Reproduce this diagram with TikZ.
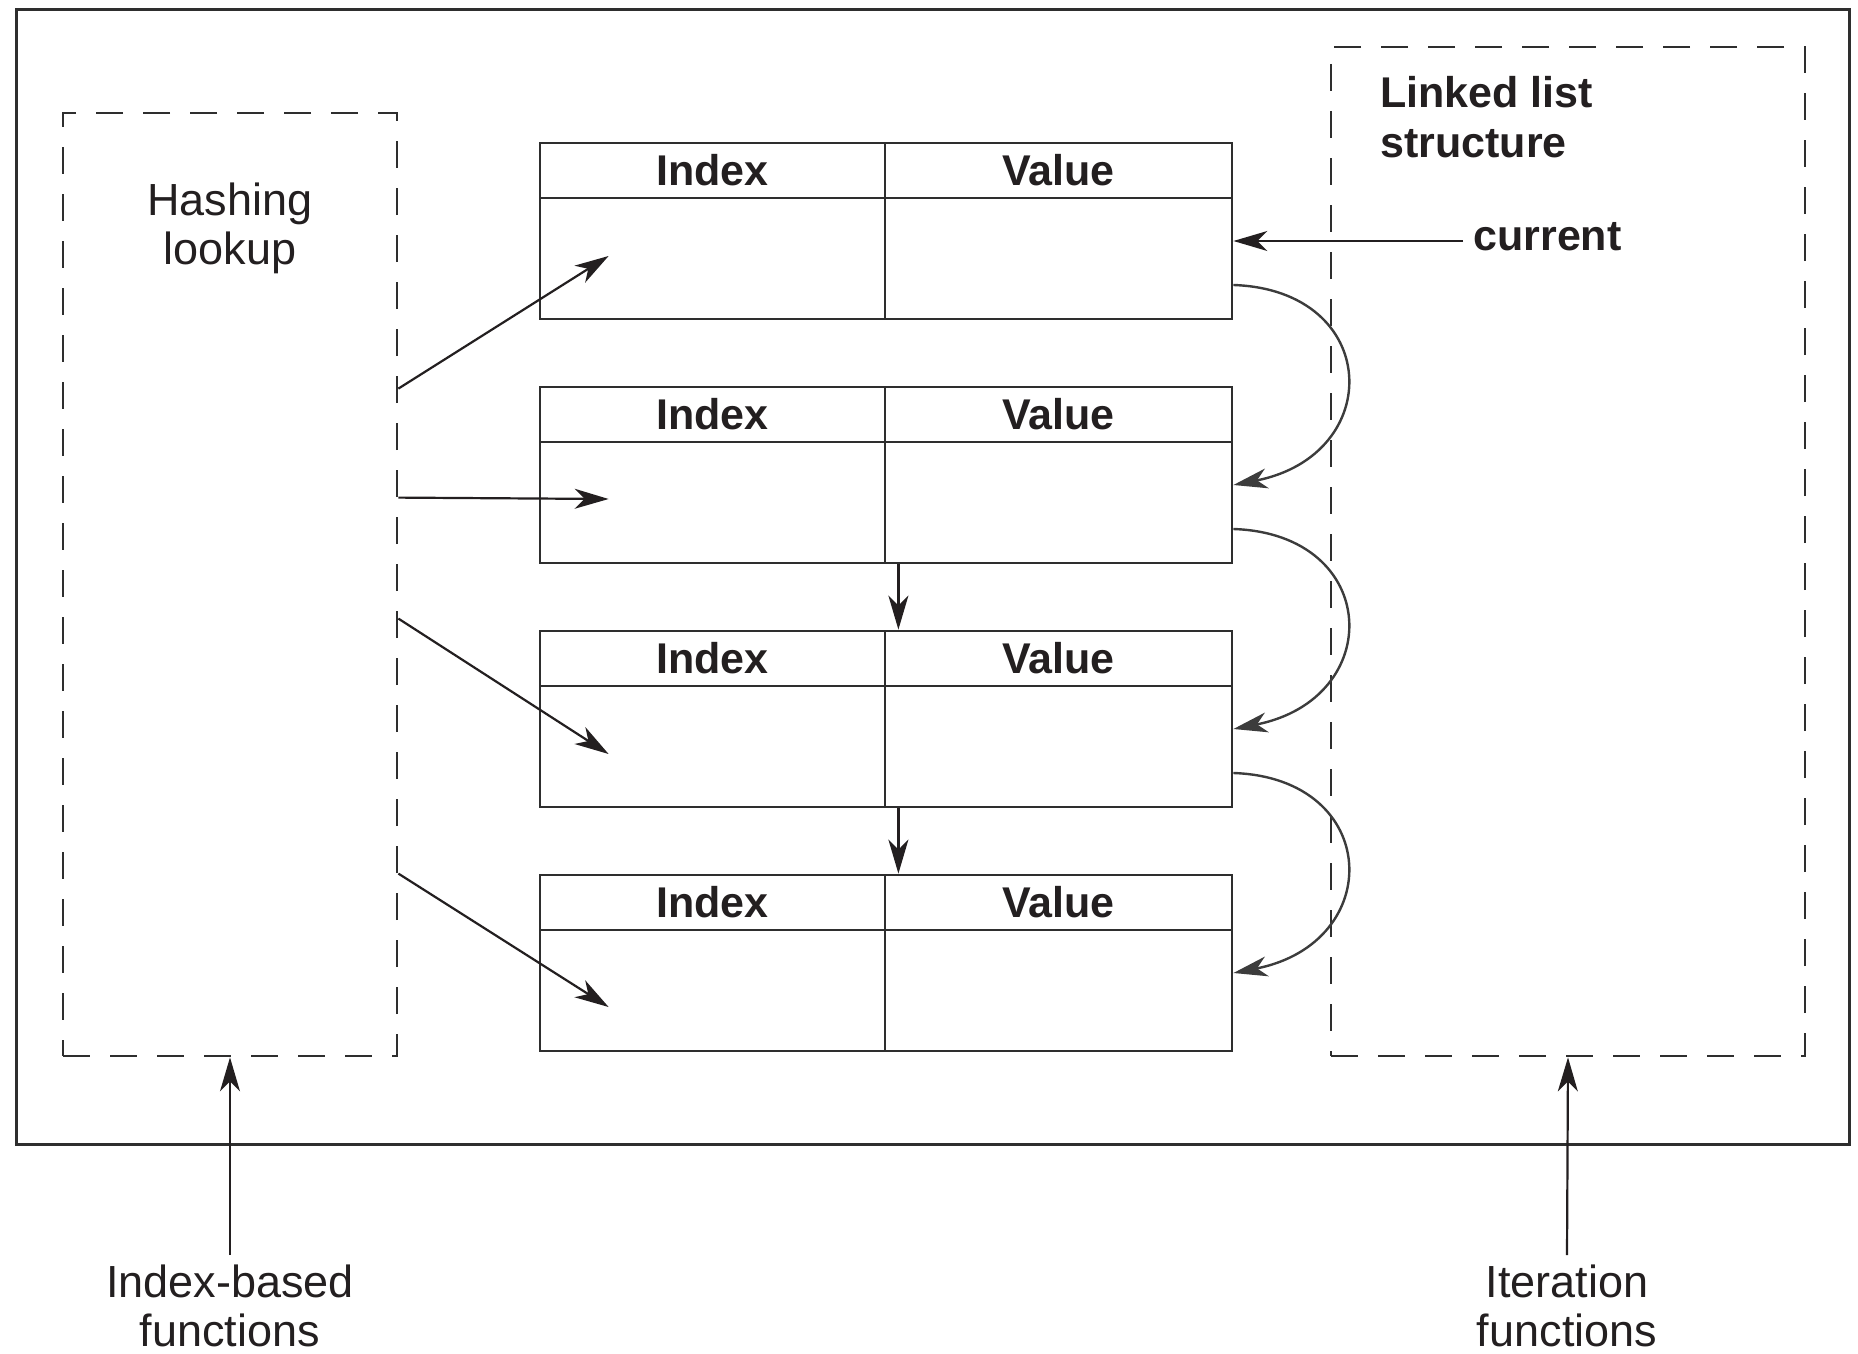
\documentclass[tikz,border=0pt]{standalone}
\usepackage{fontspec}
\setmainfont{Liberation Sans}
\usetikzlibrary{arrows.meta,calc}

\definecolor{ink}{HTML}{231F20}
\definecolor{linegray}{HTML}{2E2E2E}
\definecolor{curvegray}{HTML}{3C3C3C}

\tikzset{
  frame/.style={draw=linegray, line width=1.5pt, rectangle, inner sep=0pt},
  groupbox/.style={draw=linegray, line width=1.4pt, dash pattern=on 13.5pt off 10pt, rectangle, inner sep=0pt},
  cell/.style={draw=linegray, line width=1.4pt, rectangle, inner sep=0pt, text=ink,
               font=\bfseries\fontsize{21.5pt}{25pt}\selectfont},
  plainlabel/.style={text=ink, inner sep=0pt, align=center,
               font=\fontsize{22.5pt}{24.5pt}\selectfont},
  boldlabel/.style={text=ink, inner sep=0pt, align=left,
               font=\bfseries\fontsize{21.5pt}{25pt}\selectfont},
  arr/.style={draw=ink, line width=1.1pt,
              -{Stealth[length=17pt,width=10pt,inset=5pt]}},
  linkarr/.style={draw=curvegray, line width=1.2pt,
              -{Stealth[length=17pt,width=10pt,inset=5pt]}},
}

\begin{document}
\begin{tikzpicture}[x=0.5pt,y=-0.5pt]
  \useasboundingbox (0,0) rectangle (1858,1354);

  % outer frame and the two dashed groups
  \node[frame, minimum width=916.5pt, minimum height=567pt] (outer) at (932.5,577) {};
  \node[groupbox, minimum width=167pt, minimum height=471.5pt] (hash) at (230,584.5) {};
  \node[groupbox, minimum width=237pt, minimum height=504.5pt] (list) at (1568,551.5) {};

  \node[plainlabel, anchor=north] (hashlbl) at (230,182) {Hashing\\lookup};
  \node[boldlabel, anchor=north west] (listlbl) at (1380,76) {Linked list\\structure};

  % the four index/value records
  \foreach \k/\t in {1/143,2/387,3/631,4/875}{
    \node[cell, minimum width=172.5pt, minimum height=27.5pt] (hi\k) at (712.5,{\t+27.5}) {Index};
    \node[cell, minimum width=173.5pt, minimum height=27.5pt] (hv\k) at (1058.5,{\t+27.5}) {Value};
    \node[cell, minimum width=172.5pt, minimum height=60.5pt] (bi\k) at (712.5,{\t+115.5}) {};
    \node[cell, minimum width=173.5pt, minimum height=60.5pt] (bv\k) at (1058.5,{\t+115.5}) {};
  }

  % hashing lookup into the records
  \draw[arr] ($(hash.north east)+(0,277)$) -- ($(bi1.west)+(70,-2.5)$);
  \draw[arr] ($(hash.north east)+(0,386)$) -- ($(bi2.west)+(70,-3.5)$);
  \draw[arr] ($(hash.north east)+(0,507)$) -- ($(bi3.west)+(70,7.5)$);
  \draw[arr] ($(hash.north east)+(0,762)$) -- ($(bi4.west)+(70,16.5)$);

  % chained records
  \draw[arr] ($(bi2.south east)+(12,0)$) -- ($(hi3.north east)+(12,0)$);
  \draw[arr] ($(bi3.south east)+(12,0)$) -- ($(hi4.north east)+(12,0)$);

  % current pointer
  \node[boldlabel, anchor=base west] (cur) at (1473,250) {current};
  \draw[arr] ($(cur.base west)+(-10,-9)$) -- ($(bv1.east)+(0,-17.5)$);

  % next links along the list
  \foreach \k/\n in {1/2,2/3,3/4}{
    \draw[linkarr] ($(bv\k.east)+(0,26.5)$) .. controls +(148,5) and +(153,-30) .. ($(bv\n.east)+(0,-17.5)$);
  }

  % access paths from outside
  \node[plainlabel, anchor=north] (idxfn) at (230,1264) {Index-based\\functions};
  \node[plainlabel, anchor=north] (iterfn) at (1567,1264) {Iteration\\functions};
  \draw[arr] ($(idxfn.north)+(0,-9)$) -- (hash.south);
  \draw[arr] ($(iterfn.north)+(0,-9)$) -- (list.south);
\end{tikzpicture}
\end{document}
